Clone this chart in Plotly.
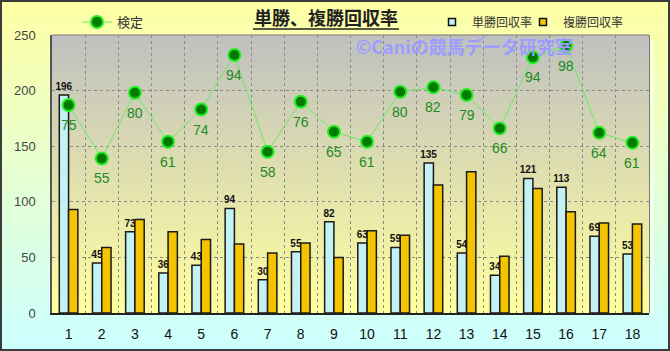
import plotly.graph_objects as go

races = list(range(1, 19))
tansho = [196, 45, 73, 36, 43, 94, 30, 55, 82, 63, 59, 135, 54, 34, 121, 113, 69, 53]
fukusho = [93, 59, 84, 73, 66, 62, 54, 63, 50, 74, 70, 115, 127, 51, 112, 91, 81, 80]
kentei_pos = [187, 139, 198, 154, 183, 232, 145, 190, 163, 154, 199, 203, 196, 166, 230, 240, 162, 153]
kentei_lbl = [75, 55, 80, 61, 74, 94, 58, 76, 65, 61, 80, 82, 79, 66, 94, 98, 64, 61]
yticks = [0, 50, 100, 150, 200, 250]

W, H = 670, 351
ML, MR, MT, MB = 52, 21, 35, 38
PW, PH = W - ML - MR, H - MT - MB

def lerp(c1, c2, t):
    return "rgb(%d,%d,%d)" % tuple(round(a + (b - a) * t) for a, b in zip(c1, c2))

shapes = []
N = 60
for i in range(N):
    t = i / (N - 1)
    shapes.append(dict(type="rect", xref="paper", yref="paper", layer="below",
                       x0=-ML / PW, x1=1 + MR / PW,
                       y0=1 + MT / PH - (i + 1) * (H / N) / PH - 0.002,
                       y1=1 + MT / PH - i * (H / N) / PH,
                       fillcolor=lerp((255, 255, 165), (204, 255, 255), t), line_width=0))
M = 60
for i in range(M):
    t = i / (M - 1)
    shapes.append(dict(type="rect", xref="paper", yref="paper", layer="below",
                       x0=0, x1=1, y0=1 - (i + 1) / M - 0.002, y1=1 - i / M,
                       fillcolor=lerp((192, 192, 192), (255, 255, 158), t), line_width=0))
shapes.append(dict(type="rect", xref="paper", yref="paper", layer="below",
                   x0=1, x1=1 + 5 / PW, y0=0.0, y1=1 - 4 / PH,
                   fillcolor="rgba(255,255,255,0.45)", line_width=0))
shapes.append(dict(type="rect", xref="paper", yref="paper", layer="above",
                   x0=1 + 0.5 / PW, x1=1 + 0.5 / PW, y0=0, y1=1,
                   line=dict(color="#777777", width=1)))
shapes.append(dict(type="line", xref="paper", yref="paper", layer="above",
                   x0=0, x1=1, y0=1, y1=1, line=dict(color="#777777", width=1)))
# title underline
shapes.append(dict(type="line", xref="paper", yref="paper", layer="above",
                   x0=(253 - ML) / PW, x1=(399 - ML) / PW, y0=1 + (MT - 29) / PH, y1=1 + (MT - 29) / PH,
                   line=dict(color="#222222", width=1.5)))
# outer border
shapes.append(dict(type="rect", xref="paper", yref="paper", layer="above",
                   x0=-(ML - 1) / PW, x1=1 + (MR - 1) / PW,
                   y0=-(MB - 1) / PH, y1=1 + (MT - 1) / PH,
                   line=dict(color="#3c3c3c", width=2), fillcolor="rgba(0,0,0,0)"))

fig = go.Figure()

fig.add_trace(go.Bar(
    x=races, y=tansho, name="単勝回収率", showlegend=False,
    marker=dict(color="#C4F2F4", line=dict(color="#1a1a1a", width=1.5)),
    text=[str(v) for v in tansho], textposition="outside", cliponaxis=False,
    constraintext="none", textangle=0,
    textfont=dict(family="Liberation Sans", size=10, color="#111111", weight="bold"),
))
fig.add_trace(go.Bar(
    x=races, y=fukusho, name="複勝回収率", showlegend=False,
    marker=dict(color="#F5C400", line=dict(color="#1a1a1a", width=1.5)),
))
fig.add_trace(go.Scatter(
    x=races, y=kentei_pos, name="検定", legend="legend", showlegend=True,
    mode="lines+markers",
    line=dict(color="#66EE66", width=1),
    marker=dict(color="#007A00", size=12, line=dict(color="#22EE22", width=2)),
))
fig.add_trace(go.Scatter(x=[None], y=[None], mode="markers", name="単勝回収率", legend="legend2",
                         marker=dict(symbol="square", size=7, color="#C4F2F4", line=dict(color="#111111", width=1.5))))
fig.add_trace(go.Scatter(x=[None], y=[None], mode="markers", name="複勝回収率", legend="legend3",
                         marker=dict(symbol="square", size=7, color="#F5C400", line=dict(color="#111111", width=1.5))))

annotations = [dict(text="©Caniの競馬データ研究室", xref="paper", yref="paper",
                    x=(354 - ML) / PW, y=1 - (46 - MT) / PH, xanchor="left", yanchor="middle", showarrow=False,
                    font=dict(family="Noto Sans CJK JP", size=18, color="#9C9CFF", weight="bold"))]
for r, p, l in zip(races, kentei_pos, kentei_lbl):
    annotations.append(dict(x=r, y=p, text=str(l), showarrow=False, yshift=-20,
                            xanchor="center", yanchor="middle",
                            font=dict(family="Liberation Sans", size=14, color="#228B22")))

leg_common = dict(yanchor="middle", orientation="h", xref="container", yref="container",
                  itemwidth=30, bgcolor="rgba(0,0,0,0)",
                  font=dict(family="Noto Sans CJK JP", size=12, color="#333333"))

fig.update_layout(
    width=W, height=H,
    margin=dict(l=ML, r=MR, t=MT, b=MB, autoexpand=False),
    paper_bgcolor="#FFFFA5", plot_bgcolor="rgba(0,0,0,0)",
    barmode="group", bargap=0.44, bargroupgap=0.0,
    shapes=shapes,
    font=dict(family="Liberation Sans", color="#333333"),
    title=dict(text="<b>単勝、複勝回収率</b>", x=326 / W, xanchor="center",
               y=1 - 19 / H, yanchor="middle", xref="container", yref="container",
               font=dict(family="Noto Sans CJK JP", size=18, color="#222222")),
    legend=dict(x=77 / W, y=1 - 22 / H, xanchor="left", **{**leg_common, "font": dict(family="Noto Sans CJK JP", size=13, color="#333333")}),
    legend2=dict(x=432 / W, y=1 - 22 / H, xanchor="left", **leg_common),
    legend3=dict(x=523 / W, y=1 - 22 / H, xanchor="left", **leg_common),
    annotations=annotations,
    xaxis=dict(range=[0.5, 18.5], tickmode="array", tickvals=races, ticktext=[str(r) for r in races],
               showgrid=False, showline=True, linecolor="#222222", linewidth=1.5, mirror=False,
               ticks="outside", ticklen=7, tickcolor="rgba(0,0,0,0)",
               tickfont=dict(family="Liberation Sans", size=14, color="#111111"),
               minor=dict(tickmode="linear", tick0=0.5, dtick=1, showgrid=True,
                          gridcolor="#8a8a8a", griddash="dot", gridwidth=1, ticks=""),
               zeroline=False, fixedrange=True),
    yaxis=dict(range=[0, 250], tickmode="array", tickvals=yticks,
               showgrid=True, gridcolor="#8a8a8a", griddash="dot", gridwidth=1,
               showline=True, linecolor="#555555", linewidth=1.5, mirror=False,
               ticks="outside", ticklen=12, tickcolor="rgba(0,0,0,0)",
               tickfont=dict(family="Liberation Sans", size=13, color="#444444"),
               zeroline=False),
)

fig.write_html("out.html")
